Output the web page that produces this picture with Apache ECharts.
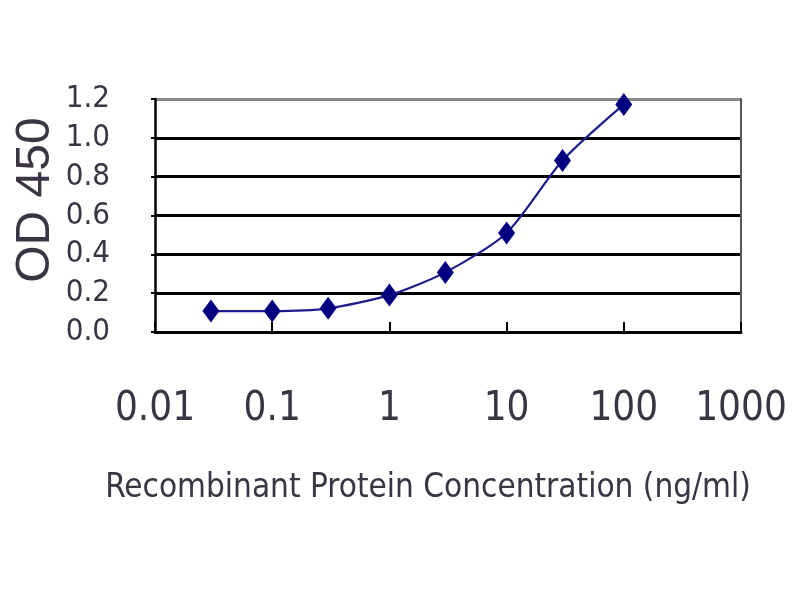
<!DOCTYPE html>
<html>
<head>
<meta charset="utf-8">
<script src="https://cdn.jsdelivr.net/npm/echarts@6/dist/echarts.min.js"></script>
<style>html,body{margin:0;padding:0;background:#fff}#c{width:800px;height:600px}</style>
</head>
<body>
<div id="c"></div>
<script>
var concentrations = [0.03, 0.1, 0.3, 1, 3, 10, 30, 100];
var odValues = [0.108, 0.108, 0.122, 0.19, 0.307, 0.51, 0.883, 1.172];
var xTickLabels = ['0.01', '0.1', '1', '10', '100', '1000'];
var yTickLabels = ['0.0', '0.2', '0.4', '0.6', '0.8', '1.0', '1.2'];
var xTitle = 'Recombinant Protein Concentration (ng/ml)';
var yTitle = 'OD 450';

var FONT = '"Liberation Sans Narrow", "DejaVu Sans Condensed", "Liberation Sans", Arial, sans-serif';
var TXT = '#3b3444';

var chart = echarts.init(document.getElementById('c'), null, {renderer: 'canvas'});
chart.setOption({
  animation: false,
  backgroundColor: '#fff',
  grid: {left: 155, right: 59, top: 99, bottom: 268, show: false},
  xAxis: {
    type: 'log', logBase: 10, min: 0.01, max: 1000,
    axisLine: {show: true, lineStyle: {color: '#000', width: 3}},
    axisTick: {show: true, inside: true, length: 10, lineStyle: {color: '#000', width: 2}},
    minorTick: {show: false},
    splitLine: {show: false},
    axisLabel: {
      margin: 58, fontFamily: FONT, fontSize: 40, color: TXT,
      formatter: function (v) {
        var i = Math.round(Math.log(v) / Math.LN10) + 2;
        return xTickLabels[i] !== undefined ? xTickLabels[i] : '';
      }
    }
  },
  yAxis: [{
    type: 'value', min: 0, max: 1.2, interval: 0.2,
    axisLine: {show: true, lineStyle: {color: '#000', width: 2.5}},
    axisTick: {show: true, length: 4, lineStyle: {color: '#000', width: 2}},
    splitLine: {show: true, lineStyle: {color: ['#000', '#000', '#000', '#000', '#000', '#000', '#8a8a8a'], width: 3}},
    axisLabel: {
      margin: 45, fontFamily: FONT, fontSize: 31, color: TXT,
      formatter: function (v) { return yTickLabels[Math.round(v / 0.2)]; }
    }
  }, {
    type: 'value', min: 0, max: 1.2, interval: 0.2, position: 'right',
    axisLine: {show: true, lineStyle: {color: '#555', width: 2}},
    axisTick: {show: false}, axisLabel: {show: false}, splitLine: {show: false}
  }],
  series: [{
    type: 'line',
    data: concentrations.map(function (c, i) { return [c, odValues[i]]; }),
    smooth: 0.25,
    symbol: 'diamond',
    symbolSize: [17, 23],
    lineStyle: {color: '#1c1c8c', width: 2.2},
    itemStyle: {color: '#000080'}
  }],
  graphic: [
    {type: 'text', x: 428, y: 472,
      style: {text: xTitle, fontFamily: FONT, fontSize: 33, fill: TXT, align: 'center', verticalAlign: 'top'}},
    {type: 'text', x: 12, y: 200, rotation: Math.PI / 2,
      style: {text: yTitle, fontFamily: '"Liberation Sans", Arial, sans-serif', fontSize: 48, fill: TXT, align: 'center', verticalAlign: 'top'}}
  ]
});
</script>
</body>
</html>
